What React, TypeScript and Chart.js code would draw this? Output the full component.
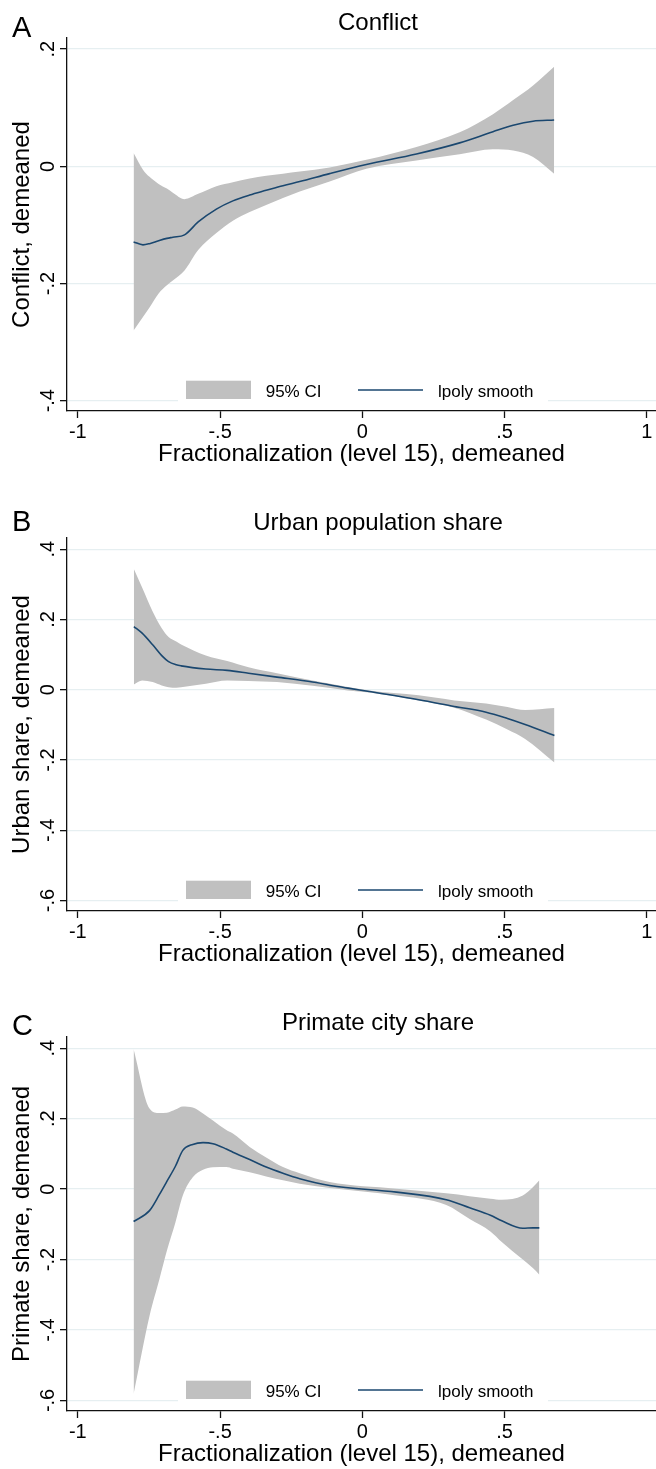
import React, { useEffect, useRef } from 'react';
import { Chart, registerables } from 'chart.js';

Chart.register(...registerables);

const FONT = "'Liberation Sans', Arial, Helvetica, sans-serif";
const CI_COLOR = '#C0C0C0';
const LINE_COLOR = '#1A476F';
const GRID_COLOR = '#E6EFF1';
const AXIS_COLOR = '#111111';
const TICK_FONT_SIZE = 20;

// ---- shared axis data ----
const xTitle = 'Fractionalization (level 15), demeaned';
const xTickValuesAB = [-1, -0.5, 0, 0.5, 1];
const xTickLabelsAB = ['-1', '-.5', '0', '.5', '1'];
const xTickValuesC = [-1, -0.5, 0, 0.5];
const xTickLabelsC = ['-1', '-.5', '0', '.5'];
const legendLabels = ['95% CI', 'lpoly smooth'];

// ---- Panel A: Conflict ----
const conflictX = [-0.804, -0.771, -0.748, -0.716, -0.687, -0.666, -0.625, -0.577, -0.513, -0.455, -0.396, -0.338, -0.279, -0.22, -0.115, 0.014, 0.19, 0.342, 0.459, 0.53, 0.6, 0.674];
const conflictFit = [-0.129, -0.134, -0.132, -0.127, -0.123, -0.121, -0.117, -0.095, -0.073, -0.059, -0.049, -0.041, -0.033, -0.026, -0.0125, 0.003, 0.021, 0.040, 0.059, 0.070, 0.077, 0.079];
const conflictUpper = [0.0227, -0.0057, -0.018, -0.030, -0.038, -0.045, -0.056, -0.047, -0.034, -0.027, -0.021, -0.016, -0.0125, -0.009, -0.002, 0.011, 0.033, 0.058, 0.089, 0.113, 0.138, 0.170];
const conflictLower = [-0.280, -0.257, -0.241, -0.217, -0.203, -0.195, -0.178, -0.143, -0.114, -0.093, -0.078, -0.066, -0.054, -0.043, -0.026, -0.004, 0.010, 0.0205, 0.029, 0.027, 0.016, -0.0125];
const conflictYTicks = [0.2, 0, -0.2, -0.4];
const conflictYLabels = ['.2', '0', '-.2', '-.4'];

// ---- Panel B: Urban population share ----
const urbanX = [-0.803, -0.774, -0.737, -0.705, -0.681, -0.654, -0.637, -0.55, -0.475, -0.4, -0.3, -0.175, -0.051, 0.024, 0.198, 0.323, 0.435, 0.51, 0.572, 0.675];
const urbanFit = [0.180, 0.161, 0.128, 0.097, 0.080, 0.071, 0.068, 0.059, 0.055, 0.047, 0.036, 0.022, 0.0046, -0.005, -0.0285, -0.0475, -0.064, -0.082, -0.099, -0.130];
const urbanUpper = [0.344, 0.291, 0.223, 0.175, 0.150, 0.137, 0.129, 0.0976, 0.082, 0.064, 0.047, 0.0265, 0.008, -0.002, -0.016, -0.0304, -0.039, -0.049, -0.058, -0.052];
const urbanLower = [0.015, 0.0265, 0.0217, 0.012, 0.0074, 0.0057, 0.007, 0.017, 0.0265, 0.025, 0.0217, 0.011, -0.002, -0.008, -0.0304, -0.051, -0.085, -0.113, -0.140, -0.207];
const urbanYTicks = [0.4, 0.2, 0, -0.2, -0.4, -0.6];
const urbanYLabels = ['.4', '.2', '0', '-.2', '-.4', '-.6'];

// ---- Panel C: Primate city share ----
const primateX = [-0.804, -0.748, -0.713, -0.687, -0.657, -0.631, -0.596, -0.56, -0.525, -0.478, -0.455, -0.396, -0.338, -0.279, -0.22, -0.115, 0.12, 0.295, 0.377, 0.45, 0.49, 0.564, 0.6, 0.622];
const primateFit = [-0.092, -0.061, -0.015, 0.022, 0.065, 0.110, 0.127, 0.132, 0.129, 0.114, 0.105, 0.084, 0.0626, 0.045, 0.0296, 0.0105, -0.0085, -0.030, -0.053, -0.074, -0.090, -0.111, -0.110, -0.110];
const primateUpper = [0.397, 0.229, 0.216, 0.217, 0.226, 0.235, 0.232, 0.215, 0.195, 0.168, 0.158, 0.120, 0.090, 0.0626, 0.045, 0.020, 0.001, -0.012, -0.020, -0.027, -0.030, -0.018, 0.006, 0.025];
const primateLower = [-0.582, -0.360, -0.255, -0.175, -0.095, -0.018, 0.034, 0.055, 0.062, 0.0626, 0.058, 0.048, 0.036, 0.025, 0.015, 0.003, -0.018, -0.045, -0.085, -0.120, -0.150, -0.200, -0.225, -0.243];
const primateYTicks = [0.4, 0.2, 0, -0.2, -0.4, -0.6];
const primateYLabels = ['.4', '.2', '0', '-.2', '-.4', '-.6'];

const pts = (xs: number[], ys: number[]) => xs.map((x, i) => ({ x, y: ys[i] }));

interface PanelCfg {
  letter: string;
  title: string;
  yTitle: string;
  top: number;
  height: number;
  padTop: number;
  padBottom: number;
  letterBaseline: number;
  yMin: number;
  yMax: number;
  yTicks: number[];
  yLabels: string[];
  xTicks: number[];
  xLabels: string[];
  xs: number[];
  fit: number[];
  upper: number[];
  lower: number[];
}

const panels: PanelCfg[] = [
  {
    letter: 'A', title: 'Conflict', yTitle: 'Conflict, demeaned',
    top: 0, height: 500, padTop: 38, padBottom: 31, letterBaseline: 37,
    yMin: -0.4176, yMax: 0.219, yTicks: conflictYTicks, yLabels: conflictYLabels,
    xTicks: xTickValuesAB, xLabels: xTickLabelsAB,
    xs: conflictX, fit: conflictFit, upper: conflictUpper, lower: conflictLower,
  },
  {
    letter: 'B', title: 'Urban population share', yTitle: 'Urban share, demeaned',
    top: 500, height: 500, padTop: 38, padBottom: 31, letterBaseline: 31,
    yMin: -0.630, yMax: 0.432, yTicks: urbanYTicks, yLabels: urbanYLabels,
    xTicks: xTickValuesAB, xLabels: xTickLabelsAB,
    xs: urbanX, fit: urbanFit, upper: urbanUpper, lower: urbanLower,
  },
  {
    letter: 'C', title: 'Primate city share', yTitle: 'Primate share, demeaned',
    top: 1000, height: 469, padTop: 37, padBottom: 0, letterBaseline: 35,
    yMin: -0.630, yMax: 0.432, yTicks: primateYTicks, yLabels: primateYLabels,
    xTicks: xTickValuesC, xLabels: xTickLabelsC,
    xs: primateX, fit: primateFit, upper: primateUpper, lower: primateLower,
  },
];

function makeDecor(p: PanelCfg) {
  return {
    id: 'panelDecor' + p.letter,
    afterDraw(chart: any) {
      const { ctx, chartArea, scales } = chart;
      const left = chartArea.left;
      const bottom = chartArea.bottom;
      ctx.save();
      ctx.fillStyle = '#000';

      // rotated y tick labels
      ctx.font = `${TICK_FONT_SIZE}px ${FONT}`;
      ctx.textAlign = 'center';
      ctx.textBaseline = 'alphabetic';
      p.yTicks.forEach((v, i) => {
        const y = scales.y.getPixelForValue(v);
        ctx.save();
        ctx.translate(left - 13.5, y);
        ctx.rotate(-Math.PI / 2);
        ctx.fillText(p.yLabels[i], 0, 0);
        ctx.restore();
      });

      // panel letter
      ctx.font = `29px ${FONT}`;
      ctx.textAlign = 'left';
      ctx.fillText(p.letter, 12, p.letterBaseline);

      // panel title
      ctx.font = `24px ${FONT}`;
      ctx.textAlign = 'center';
      ctx.fillText(p.title, 378, 30);

      // legend
      const ds = chart.data.datasets;
      ctx.fillStyle = '#FFFFFF';
      ctx.fillRect(left + 111, bottom - 39, 370, 36);
      ctx.fillStyle = CI_COLOR;
      ctx.fillRect(left + 119, bottom - 30.3, 65, 18.3);
      ctx.strokeStyle = LINE_COLOR;
      ctx.lineWidth = 1.5;
      ctx.beginPath();
      ctx.moveTo(left + 291, bottom - 21);
      ctx.lineTo(left + 356, bottom - 21);
      ctx.stroke();
      ctx.fillStyle = '#000';
      ctx.font = `17px ${FONT}`;
      ctx.textAlign = 'left';
      ctx.textBaseline = 'alphabetic';
      ctx.fillText(ds[1].label, left + 198.7, bottom - 14.3);
      ctx.fillText(ds[0].label, left + 371, bottom - 14.3);
      ctx.restore();
    },
  };
}

function Panel({ p }: { p: PanelCfg }) {
  const ref = useRef<HTMLCanvasElement | null>(null);
  useEffect(() => {
    if (!ref.current) return;
    const chart = new Chart(ref.current, {
      type: 'line',
      data: {
        datasets: [
          {
            label: legendLabels[1],
            data: pts(p.xs, p.fit),
            borderColor: LINE_COLOR,
            borderWidth: 1.6,
            pointRadius: 0,
            fill: false,
            cubicInterpolationMode: 'monotone',
          },
          {
            label: legendLabels[0],
            data: pts(p.xs, p.upper),
            borderColor: 'rgba(0,0,0,0)',
            borderWidth: 0,
            backgroundColor: CI_COLOR,
            pointRadius: 0,
            fill: '+1',
            cubicInterpolationMode: 'monotone',
          },
          {
            label: legendLabels[0] + ' lower',
            data: pts(p.xs, p.lower),
            borderColor: 'rgba(0,0,0,0)',
            borderWidth: 0,
            pointRadius: 0,
            fill: false,
            cubicInterpolationMode: 'monotone',
          },
        ],
      } as any,
      options: {
        animation: false,
        responsive: false,
        maintainAspectRatio: false,
        events: [],
        layout: { padding: { top: p.padTop, bottom: p.padBottom, left: 0, right: 0 } },
        plugins: { legend: { display: false }, tooltip: { enabled: false }, title: { display: false } },
        scales: {
          x: {
            type: 'linear',
            min: -1.038,
            max: 1.032,
            afterBuildTicks: (s: any) => { s.ticks = p.xTicks.map((v) => ({ value: v })); },
            afterFit: (s: any) => { s.height = 58; },
            ticks: {
              callback: (_v: any, i: number) => p.xLabels[i],
              font: { size: TICK_FONT_SIZE, family: FONT },
              color: '#000',
              maxRotation: 0,
              minRotation: 0,
              autoSkip: false,
              padding: 2,
            },
            grid: { drawOnChartArea: false, drawTicks: true, tickLength: 7, tickColor: AXIS_COLOR, tickWidth: 1.3 },
            border: { display: true, color: AXIS_COLOR, width: 1.3 },
            title: { display: true, text: xTitle, color: '#000', font: { size: 24, family: FONT }, padding: { top: 0, bottom: 0 } },
          },
          y: {
            type: 'linear',
            min: p.yMin,
            max: p.yMax,
            afterBuildTicks: (s: any) => { s.ticks = p.yTicks.map((v) => ({ value: v })); },
            afterFit: (s: any) => { s.width = 67; },
            ticks: { display: false },
            grid: { color: GRID_COLOR, lineWidth: 1.3, drawTicks: true, tickLength: 7, tickColor: AXIS_COLOR, tickWidth: 1.3 },
            border: { display: true, color: AXIS_COLOR, width: 1.3 },
            title: { display: true, text: p.yTitle, color: '#000', font: { size: 24, family: FONT }, padding: { top: 7.6, bottom: 0 } },
          },
        },
      } as any,
      plugins: [makeDecor(p)],
    });
    return () => chart.destroy();
  }, []);
  return (
    <canvas
      ref={ref}
      width={656}
      height={p.height}
      style={{ position: 'absolute', left: 0, top: p.top, width: 656, height: p.height, display: 'block' }}
    />
  );
}

export default function App() {
  return (
    <div style={{ position: 'absolute', left: 0, top: 0, width: 656, height: 1469, background: '#fff', overflow: 'hidden' }}>
      {panels.map((p) => (
        <Panel key={p.letter} p={p} />
      ))}
    </div>
  );
}
